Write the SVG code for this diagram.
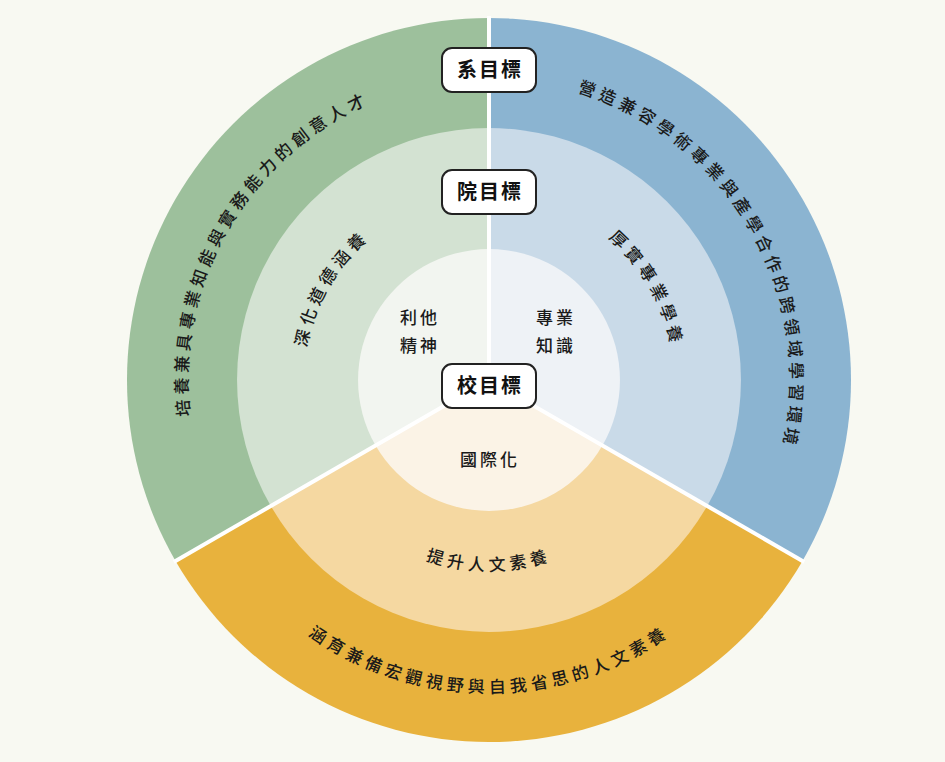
<svg xmlns="http://www.w3.org/2000/svg" width="945" height="762" viewBox="0 0 945 762">
<style>
.t{font-family:"Noto Sans CJK TC","Noto Sans CJK SC",sans-serif;font-size:17px;font-weight:500;fill:#1a1a1a;letter-spacing:4.5px}
.in{font-family:"Noto Sans CJK TC","Noto Sans CJK SC",sans-serif;font-size:17px;font-weight:500;fill:#1a1a1a;letter-spacing:3px}
.lb{font-family:"Noto Sans CJK TC","Noto Sans CJK SC",sans-serif;font-size:20px;font-weight:bold;fill:#111;letter-spacing:2px}
.box{fill:#fff;stroke:#222;stroke-width:2}
</style>
<defs>
<path id="gO" d="M228.3,530.5 A301,301 0 0 1 489,79"/>
<path id="gM" d="M328.8,472.5 A185,185 0 0 1 489,195"/>
<path id="bO" d="M489,79 A301,301 0 0 1 749.7,530.5"/>
<path id="bM" d="M489,195 A185,185 0 0 1 649.2,472.5"/>
<path id="yO" d="M217.9,536.5 A313,313 0 0 0 760.1,536.5"/>
<path id="yM" d="M323.6,475.5 A191,191 0 0 0 654.4,475.5"/>
</defs>
<rect width="945" height="762" fill="#f8f9f2"/>
<g id="green">
<path d="M489,380 L175.5,561 A362,362 0 0 1 489,18 Z" fill="#9dc09c"/>
<path d="M489,380 L270.8,506 A252,252 0 0 1 489,128 Z" fill="#d3e2d2"/>
<path d="M489,380 L375.6,445.5 A131,131 0 0 1 489,249 Z" fill="#f2f5f0"/>
<text class="t"><textPath href="#gO" startOffset="50%" text-anchor="middle">培養兼具專業知能與實務能力的創意人才</textPath></text>
<text class="t"><textPath href="#gM" startOffset="50%" text-anchor="middle">深化道德涵養</textPath></text>
<text class="in" x="420" y="324" text-anchor="middle">利他</text>
<text class="in" x="420" y="352" text-anchor="middle">精神</text>
</g>
<g id="blue">
<path d="M489,380 L489,18 A362,362 0 0 1 802.5,561 Z" fill="#8bb4d1"/>
<path d="M489,380 L489,128 A252,252 0 0 1 707.2,506 Z" fill="#c9dae8"/>
<path d="M489,380 L489,249 A131,131 0 0 1 602.4,445.5 Z" fill="#eef2f6"/>
<text class="t"><textPath href="#bO" startOffset="50%" text-anchor="middle">營造兼容學術專業與產學合作的跨領域學習環境</textPath></text>
<text class="t"><textPath href="#bM" startOffset="50%" text-anchor="middle">厚實專業學養</textPath></text>
<text class="in" x="556" y="324" text-anchor="middle">專業</text>
<text class="in" x="556" y="352" text-anchor="middle">知識</text>
</g>
<g id="yellow">
<path d="M489,380 L802.5,561 A362,362 0 0 1 175.5,561 Z" fill="#e8b23d"/>
<path d="M489,380 L707.2,506 A252,252 0 0 1 270.8,506 Z" fill="#f5d8a1"/>
<path d="M489,380 L602.4,445.5 A131,131 0 0 1 375.6,445.5 Z" fill="#fbf3e6"/>
<text class="t"><textPath href="#yO" startOffset="50%" text-anchor="middle">涵育兼備宏觀視野與自我省思的人文素養</textPath></text>
<text class="t"><textPath href="#yM" startOffset="50%" text-anchor="middle">提升人文素養</textPath></text>
<text class="in" x="490" y="466" text-anchor="middle">國際化</text>
</g>
<g id="connectors" stroke="#fff" stroke-width="4">
<line x1="489" y1="380" x2="489" y2="16"/>
<line x1="489" y1="380" x2="173.8" y2="562"/>
<line x1="489" y1="380" x2="804.2" y2="562"/>
</g>
<g id="dept"><rect class="box" x="442" y="48" width="94" height="44" rx="10"/><text class="lb" x="490" y="77" text-anchor="middle">系目標</text></g>
<g id="college"><rect class="box" x="442" y="170" width="94" height="44" rx="10"/><text class="lb" x="490" y="199" text-anchor="middle">院目標</text></g>
<g id="school"><rect class="box" x="442" y="364" width="94" height="44" rx="10"/><text class="lb" x="490" y="393" text-anchor="middle">校目標</text></g>
</svg>
